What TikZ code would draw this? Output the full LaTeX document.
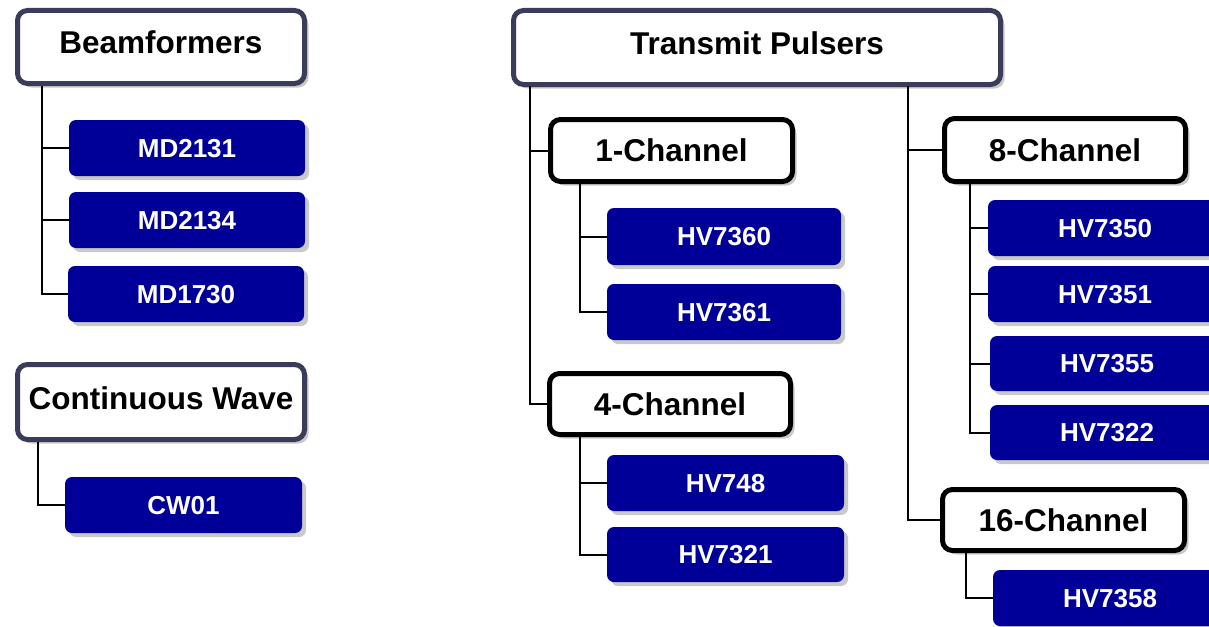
\documentclass[tikz,border=0pt]{standalone}
\usepackage{fontspec}
\setmainfont{Liberation Sans}
\usetikzlibrary{shadows}
\definecolor{slate}{HTML}{3A3D5A}
\definecolor{chipblue}{HTML}{000099}
\begin{document}
\begin{tikzpicture}[x=1pt,y=-1pt,
  shd/.style={drop shadow={shadow xshift=4pt,shadow yshift=-4pt,opacity=0.3,fill=black!70}},
  toplevel/.style={draw=slate,line width=5pt,fill=white,rounded corners=10pt,shd,inner sep=0pt,
    font=\fontsize{31.5}{36}\selectfont\bfseries,text height=22.5pt,text depth=8.5pt,
    minimum width=287pt,minimum height=73pt},
  sublevel/.style={draw=black,line width=5pt,fill=white,rounded corners=10pt,shd,inner sep=0pt,
    font=\fontsize{31.5}{36}\selectfont\bfseries,text height=22.5pt,text depth=0pt,
    minimum width=242pt,minimum height=62pt},
  chip/.style={fill=chipblue,text=white,rounded corners=7pt,shd,inner sep=0pt,
    font=\fontsize{26}{30}\selectfont\bfseries,text height=18.6pt,text depth=0pt,
    minimum width=236pt,minimum height=56pt},
  wire/.style={draw=black,line width=2pt}]
\useasboundingbox (0,0) rectangle (1209,626);

% left column
\node[toplevel] (bf) at (161,47) {Beamformers};
\node[chip] (md2131) at (187,148) {MD2131};
\node[chip] (md2134) at (187,220) {MD2134};
\node[chip] (md1730) at (186,294) {MD1730};

\node[toplevel,minimum height=75pt] (cw) at (161,402) {Continuous Wave};
\node[chip,minimum width=237pt] (cw01) at (183.5,505) {CW01};

% transmit pulsers
\node[toplevel,minimum width=487pt,minimum height=74pt] (tp) at (757,47.5) {Transmit Pulsers};

\node[sublevel] (c1) at (671.5,150.5) {1-Channel};
\node[chip,minimum width=234pt,minimum height=57pt] (hv7360) at (724,236.5) {HV7360};
\node[chip,minimum width=234pt] (hv7361) at (724,312) {HV7361};

\node[sublevel,minimum width=241pt,minimum height=61pt] (c4) at (670,404) {4-Channel};
\node[chip,minimum width=237pt] (hv748) at (725.5,483) {HV748};
\node[chip,minimum width=237pt,minimum height=55pt] (hv7321) at (725.5,554.5) {HV7321};

\node[sublevel,minimum width=241pt,minimum height=63pt] (c8) at (1065,150) {8-Channel};
\node[chip,minimum width=234pt] (hv7350) at (1105,228) {HV7350};
\node[chip,minimum width=234pt] (hv7351) at (1105,294) {HV7351};
\node[chip,minimum width=234pt,minimum height=55pt] (hv7355) at (1107,363.5) {HV7355};
\node[chip,minimum width=234pt,minimum height=55pt] (hv7322) at (1107,432.5) {HV7322};

\node[sublevel,minimum height=61pt] (c16) at (1063.5,520) {16-Channel};
\node[chip,minimum width=234pt] (hv7358) at (1110,598) {HV7358};

% trunk coordinates
\coordinate (bfx) at (42,86);
\coordinate (cwx) at (38,442);
\coordinate (tpl) at (530,86);
\coordinate (tpr) at (908,86);
\coordinate (c1x) at (580,183);
\coordinate (c4x) at (580,436);
\coordinate (c8x) at (970,183);
\coordinate (c16x) at (966,552);

\begin{scope}[on background layer/.try]
\end{scope}

% connectors
\draw[wire] (bfx) |- (md1730.west);
\draw[wire] (bfx |- md2131.west) -- (md2131.west);
\draw[wire] (bfx |- md2134.west) -- (md2134.west);

\draw[wire] (cwx) |- (cw01.west);

\draw[wire] (tpl) |- (c4.west);
\draw[wire] (tpl |- c1.west) -- (c1.west);
\draw[wire] (tpr) |- (c16.west);
\draw[wire] (tpr |- c8.west) -- (c8.west);

\draw[wire] (c1x) |- (hv7361.west);
\draw[wire] (c1x |- hv7360.west) -- (hv7360.west);
\draw[wire] (c4x) |- (hv7321.west);
\draw[wire] (c4x |- hv748.west) -- (hv748.west);
\draw[wire] (c8x) |- (hv7322.west);
\draw[wire] (c8x |- hv7350.west) -- (hv7350.west);
\draw[wire] (c8x |- hv7351.west) -- (hv7351.west);
\draw[wire] (c8x |- hv7355.west) -- (hv7355.west);
\draw[wire] (c16x) |- (hv7358.west);
\end{tikzpicture}
\end{document}
